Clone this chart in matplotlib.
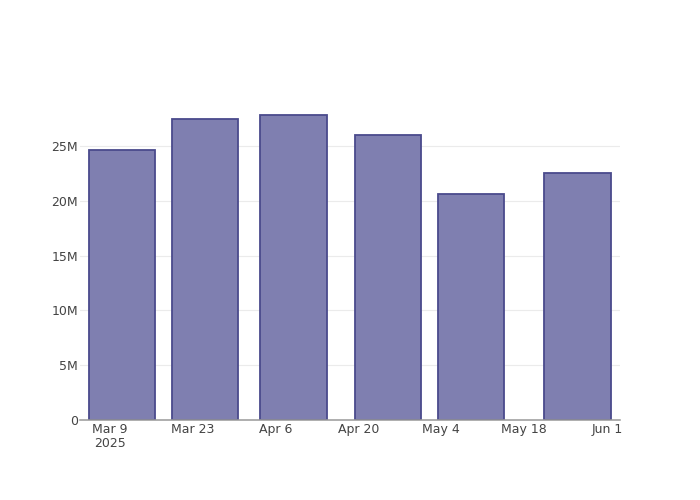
import numpy as np
import matplotlib.pyplot as plt
import matplotlib.dates as mdates
from matplotlib.ticker import FuncFormatter
import datetime as dt

# Data
dates = ["2025-03-11", "2025-03-25", "2025-04-09", "2025-04-25", "2025-05-09", "2025-05-27"]
values = [24.64e6, 27.46e6, 27.80e6, 26.00e6, 20.59e6, 22.56e6]
tick_dates = ["2025-03-09", "2025-03-23", "2025-04-06", "2025-04-20", "2025-05-04", "2025-05-18", "2025-06-01"]
tick_labels = ["Mar 9\n2025", "Mar 23", "Apr 6", "Apr 20", "May 4", "May 18", "Jun 1"]

x = mdates.date2num([dt.datetime.fromisoformat(d) for d in dates])
ticks = mdates.date2num([dt.datetime.fromisoformat(d) for d in tick_dates])

plt.rcParams['font.family'] = ['DejaVu Sans']
fig = plt.figure(figsize=(7, 5), dpi=100)
ax = fig.add_axes([80/700, 80/500, 540/700, 320/500])

bar_width = 0.8 * 14  # days
ax.bar(x, values, width=bar_width, color='#7f7fb0', edgecolor='#4a4a8c', linewidth=1.3, zorder=3)

ax.set_xlim(x[0] - 7.07, x[0] + 84.2)
ax.set_ylim(0, 29.2e6)

ax.set_xticks(ticks)
ax.set_xticklabels(tick_labels, linespacing=1.1)
ax.set_yticks(np.arange(0, 26e6, 5e6))
ax.yaxis.set_major_formatter(FuncFormatter(lambda v, p: "0" if v == 0 else f"{v/1e6:.0f}M"))

ax.tick_params(axis='both', length=0, labelsize=9, colors='#444444')
ax.tick_params(axis='x', pad=2)
ax.tick_params(axis='y', pad=1.5)
ax.grid(axis='y', color='#ebebeb', linewidth=0.8, zorder=0)

for side in ['top', 'right', 'left']:
    ax.spines[side].set_visible(False)
ax.spines['bottom'].set_color('#999999')
ax.spines['bottom'].set_linewidth(1.1)
ax.spines['bottom'].set_zorder(4)

fig.savefig('out.png', dpi=100)
